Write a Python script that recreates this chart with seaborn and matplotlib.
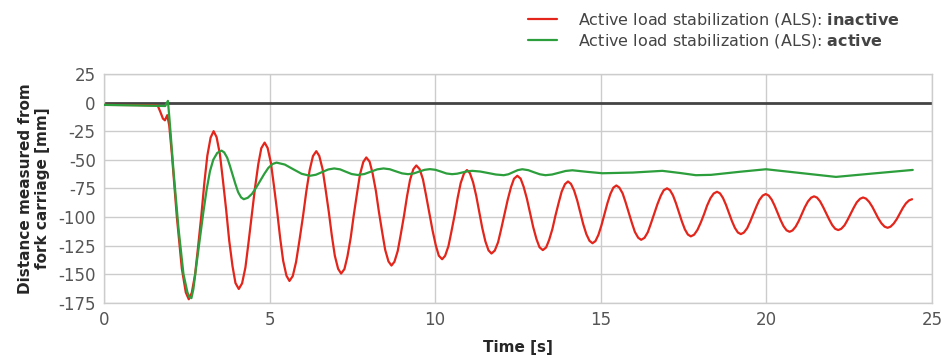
import matplotlib
matplotlib.use("Agg")
import matplotlib.pyplot as plt
import seaborn as sns
import pandas as pd

# red curve, ALS inactive (time in s, distance in mm)
red_t = [0.0, 1.0, 1.62, 1.70, 1.78, 1.84, 1.91, 1.97, 2.05, 2.20, 2.35, 2.47, 2.56,
         2.65, 2.75, 2.84, 2.94, 3.03, 3.12, 3.22, 3.31,
         3.40, 3.50, 3.59, 3.69, 3.78, 3.88, 3.97, 4.07,
         4.17, 4.27, 4.36, 4.46, 4.56, 4.66, 4.75, 4.85,
         4.94, 5.04, 5.13, 5.23, 5.32, 5.41, 5.51, 5.60,
         5.70, 5.80, 5.90, 6.01, 6.11, 6.21, 6.31, 6.41,
         6.50, 6.60, 6.69, 6.79, 6.88, 6.97, 7.07, 7.16,
         7.26, 7.35, 7.45, 7.54, 7.64, 7.73, 7.83, 7.92,
         8.02, 8.11, 8.21, 8.30, 8.40, 8.49, 8.59, 8.68,
         8.77, 8.87, 8.96, 9.06, 9.15, 9.24, 9.34, 9.43,
         9.53, 9.63, 9.72, 9.82, 9.92, 10.02, 10.11, 10.21,
         10.30, 10.40, 10.49, 10.59, 10.68, 10.77, 10.87, 10.96,
         11.05, 11.145, 11.24, 11.33, 11.42, 11.515, 11.61, 11.70,
         11.80, 11.90, 11.99, 12.09, 12.19, 12.29, 12.38, 12.48,
         12.58, 12.67, 12.77, 12.865, 12.96, 13.06, 13.15, 13.25,
         13.35, 13.44, 13.54, 13.63, 13.73, 13.82, 13.92, 14.01,
         14.10, 14.195, 14.29, 14.38, 14.47, 14.565, 14.66, 14.75,
         14.84, 14.93, 15.02, 15.11, 15.20, 15.29, 15.38, 15.47,
         15.56, 15.66, 15.75, 15.845, 15.94, 16.03, 16.13, 16.22,
         16.32, 16.42, 16.51, 16.61, 16.71, 16.81, 16.90, 17.00,
         17.09, 17.18, 17.27, 17.36, 17.45, 17.54, 17.63, 17.72,
         17.82, 17.92, 18.02, 18.12, 18.21, 18.31, 18.41, 18.51,
         18.60, 18.69, 18.78, 18.87, 18.96, 19.05, 19.14, 19.23,
         19.32, 19.42, 19.51, 19.605, 19.70, 19.79, 19.89, 19.98,
         20.07, 20.16, 20.25, 20.34, 20.43, 20.52, 20.61, 20.70,
         20.79, 20.885, 20.98, 21.07, 21.16, 21.255, 21.35, 21.44,
         21.53, 21.62, 21.71, 21.805, 21.90, 21.99, 22.08, 22.17,
         22.26, 22.36, 22.45, 22.545, 22.64, 22.73, 22.83, 22.92,
         23.01, 23.105, 23.20, 23.29, 23.38, 23.475, 23.57, 23.66,
         23.75, 23.845, 23.94, 24.03, 24.12, 24.215, 24.31, 24.40]
red_v = [-2.0, -2.2, -2.5, -8.0, -14.0, -15.5, -11.0, -20.0, -45.0, -100.0, -145.0, -166.0, -172.0,
         -166.4, -150.5, -126.6, -98.5, -70.4, -46.5, -30.6, -25.0,
         -30.2, -45.1, -67.6, -94.0, -120.4, -142.9, -157.8, -163.0,
         -158.1, -144.3, -123.4, -99.0, -74.6, -53.7, -39.9, -35.0,
         -39.6, -52.7, -72.4, -95.5, -118.6, -138.3, -151.4, -156.0,
         -151.7, -139.4, -120.9, -99.3, -77.6, -59.1, -46.8, -42.5,
         -46.6, -58.1, -75.6, -96.0, -116.4, -133.9, -145.4, -149.5,
         -145.6, -134.7, -118.1, -98.8, -79.4, -62.8, -51.9, -48.0,
         -51.6, -61.8, -77.2, -95.3, -113.3, -128.7, -138.9, -142.5,
         -139.2, -129.7, -115.5, -98.8, -82.0, -67.8, -58.3, -55.0,
         -58.1, -67.0, -80.3, -96.0, -111.7, -125.0, -133.9, -137.0,
         -134.0, -125.6, -112.9, -98.0, -83.1, -70.4, -62.0, -59.0,
         -61.8, -69.7, -81.6, -95.5, -109.4, -121.3, -129.2, -132.0,
         -129.4, -122.1, -111.0, -98.0, -85.0, -73.9, -66.6, -64.0,
         -66.5, -73.5, -84.1, -96.5, -108.9, -119.5, -126.5, -129.0,
         -126.7, -120.2, -110.5, -99.0, -87.5, -77.8, -71.3, -69.0,
         -71.1, -76.9, -85.7, -96.0, -106.3, -115.1, -120.9, -123.0,
         -121.1, -115.6, -107.4, -97.8, -88.1, -79.9, -74.4, -72.5,
         -74.3, -79.4, -87.2, -96.3, -105.3, -113.1, -118.2, -120.0,
         -118.3, -113.4, -106.1, -97.5, -88.9, -81.6, -76.7, -75.0,
         -76.6, -81.1, -88.0, -96.0, -104.0, -110.9, -115.4, -117.0,
         -115.5, -111.3, -104.9, -97.5, -90.1, -83.7, -79.5, -78.0,
         -79.4, -83.4, -89.4, -96.5, -103.6, -109.6, -113.6, -115.0,
         -113.7, -109.9, -104.2, -97.5, -90.8, -85.1, -81.3, -80.0,
         -81.3, -84.8, -90.2, -96.5, -102.8, -108.2, -111.7, -113.0,
         -111.8, -108.5, -103.4, -97.5, -91.6, -86.5, -83.2, -82.0,
         -83.1, -86.3, -91.1, -96.8, -102.4, -107.2, -110.4, -111.5,
         -110.4, -107.3, -102.7, -97.3, -91.8, -87.2, -84.1, -83.0,
         -84.0, -86.9, -91.2, -96.3, -101.3, -105.6, -108.5, -109.5,
         -108.5, -105.8, -101.8, -97.0, -92.2, -88.1, -85.5, -84.5]

# green curve, ALS active
green_t = [0.0, 1.0, 1.85, 1.93, 1.98, 2.10, 2.25, 2.40, 2.52, 2.58, 2.64,
           2.70, 2.80, 2.90, 3.00, 3.10, 3.20, 3.30, 3.42, 3.55,
           3.63, 3.72, 3.80, 3.885, 3.97, 4.05, 4.14, 4.22,
           4.34, 4.47, 4.59, 4.715, 4.84, 4.96, 5.09, 5.21,
           5.46, 5.715, 5.97, 6.22,
           6.40, 6.585, 6.77, 6.95, 7.13, 7.305, 7.48, 7.66,
           7.86, 8.05, 8.25, 8.44, 8.63, 8.81, 9.00, 9.18,
           9.35, 9.51, 9.68, 9.84, 10.01, 10.18, 10.34, 10.51,
           10.66, 10.81, 10.97, 11.12, 11.36, 11.60, 11.83, 12.07,
           12.21, 12.35, 12.49, 12.63, 12.81, 12.98, 13.16, 13.33,
           13.53, 13.73, 13.94, 14.14, 14.60, 15.05, 15.96, 16.86,
           17.40, 17.87, 18.33, 19.20, 19.99, 21.00, 22.10, 23.30, 24.42]
green_v = [-2.0, -2.5, -3.0, 1.5, -15.0, -60.0, -110.0, -150.0, -166.0, -170.0, -171.0,
           -163.0, -140.0, -118.0, -96.0, -76.0, -60.0, -50.0, -44.0, -42.0,
           -43.6, -48.2, -55.1, -63.3, -71.4, -78.3, -82.9, -84.5,
           -83.3, -79.8, -74.6, -68.5, -62.4, -57.2, -53.7, -52.5,
           -54.2, -58.3, -62.3, -64.0,
           -63.1, -60.8, -58.5, -57.6, -58.4, -60.5, -62.5, -63.3,
           -62.5, -60.5, -58.4, -57.6, -58.3, -60.1, -61.9, -62.6,
           -62.0, -60.4, -58.8, -58.2, -58.8, -60.4, -62.0, -62.6,
           -62.2, -61.2, -60.1, -59.7, -60.3, -61.6, -62.9, -63.5,
           -62.7, -60.9, -59.1, -58.3, -59.1, -60.9, -62.7, -63.5,
           -62.9, -61.4, -59.8, -59.2, -60.6, -61.8, -61.2, -59.7,
           -61.6, -63.5, -63.2, -60.5, -58.3, -61.5, -65.0, -61.8, -58.9]

y_ticks = [25, 0, -25, -50, -75, -100, -125, -150, -175]
x_ticks = [0, 5, 10, 15, 20, 25]

lbl_red = r"Active load stabilization (ALS): $\mathbf{inactive}$"
lbl_green = r"Active load stabilization (ALS): $\mathbf{active}$"

sns.set_style("white")
plt.rcParams["font.family"] = ["DejaVu Sans"]
plt.rcParams["axes.unicode_minus"] = False
plt.rcParams["mathtext.fontset"] = "dejavusans"

fig = plt.figure(figsize=(9.41, 3.58), dpi=100)
ax = fig.add_axes([0.1105, 0.1545, 0.8799, 0.6388])

df_red = pd.DataFrame({"t": red_t, "v": red_v})
df_green = pd.DataFrame({"t": green_t, "v": green_v})

ax.axhline(0, color="#444444", lw=2.0, zorder=1)
sns.lineplot(data=df_red, x="t", y="v", ax=ax, color="#e3251b", lw=1.6,
             estimator=None, sort=False, label=lbl_red, zorder=3)
sns.lineplot(data=df_green, x="t", y="v", ax=ax, color="#2c9e3c", lw=1.6,
             estimator=None, sort=False, label=lbl_green, zorder=4)

ax.set_xlim(0, 25)
ax.set_ylim(-175, 25)
ax.set_xticks(x_ticks)
ax.set_yticks(y_ticks)
ax.grid(True, color="#cccccc", lw=1.0)
ax.set_axisbelow(True)
for s in ax.spines.values():
    s.set_color("#cccccc")
    s.set_linewidth(1.0)
ax.tick_params(length=0, labelsize=12, labelcolor="#555555", pad=6)

ax.set_xlabel("Time [s]", fontsize=11, fontweight="bold", labelpad=8)
ax.set_ylabel("Distance measured from\nfork carriage [mm]", fontsize=11,
              fontweight="bold", labelpad=6, linespacing=1.1)

ax.legend(loc="upper left", bbox_to_anchor=(528 / 941, 1 - 11 / 358),
          bbox_transform=fig.transFigure, frameon=False, fontsize=11.5,
          handlelength=1.8, handletextpad=1.3, labelspacing=0.2,
          borderpad=0, borderaxespad=0, labelcolor="#444444")

plt.savefig("out.png", dpi=100)
plt.close()
